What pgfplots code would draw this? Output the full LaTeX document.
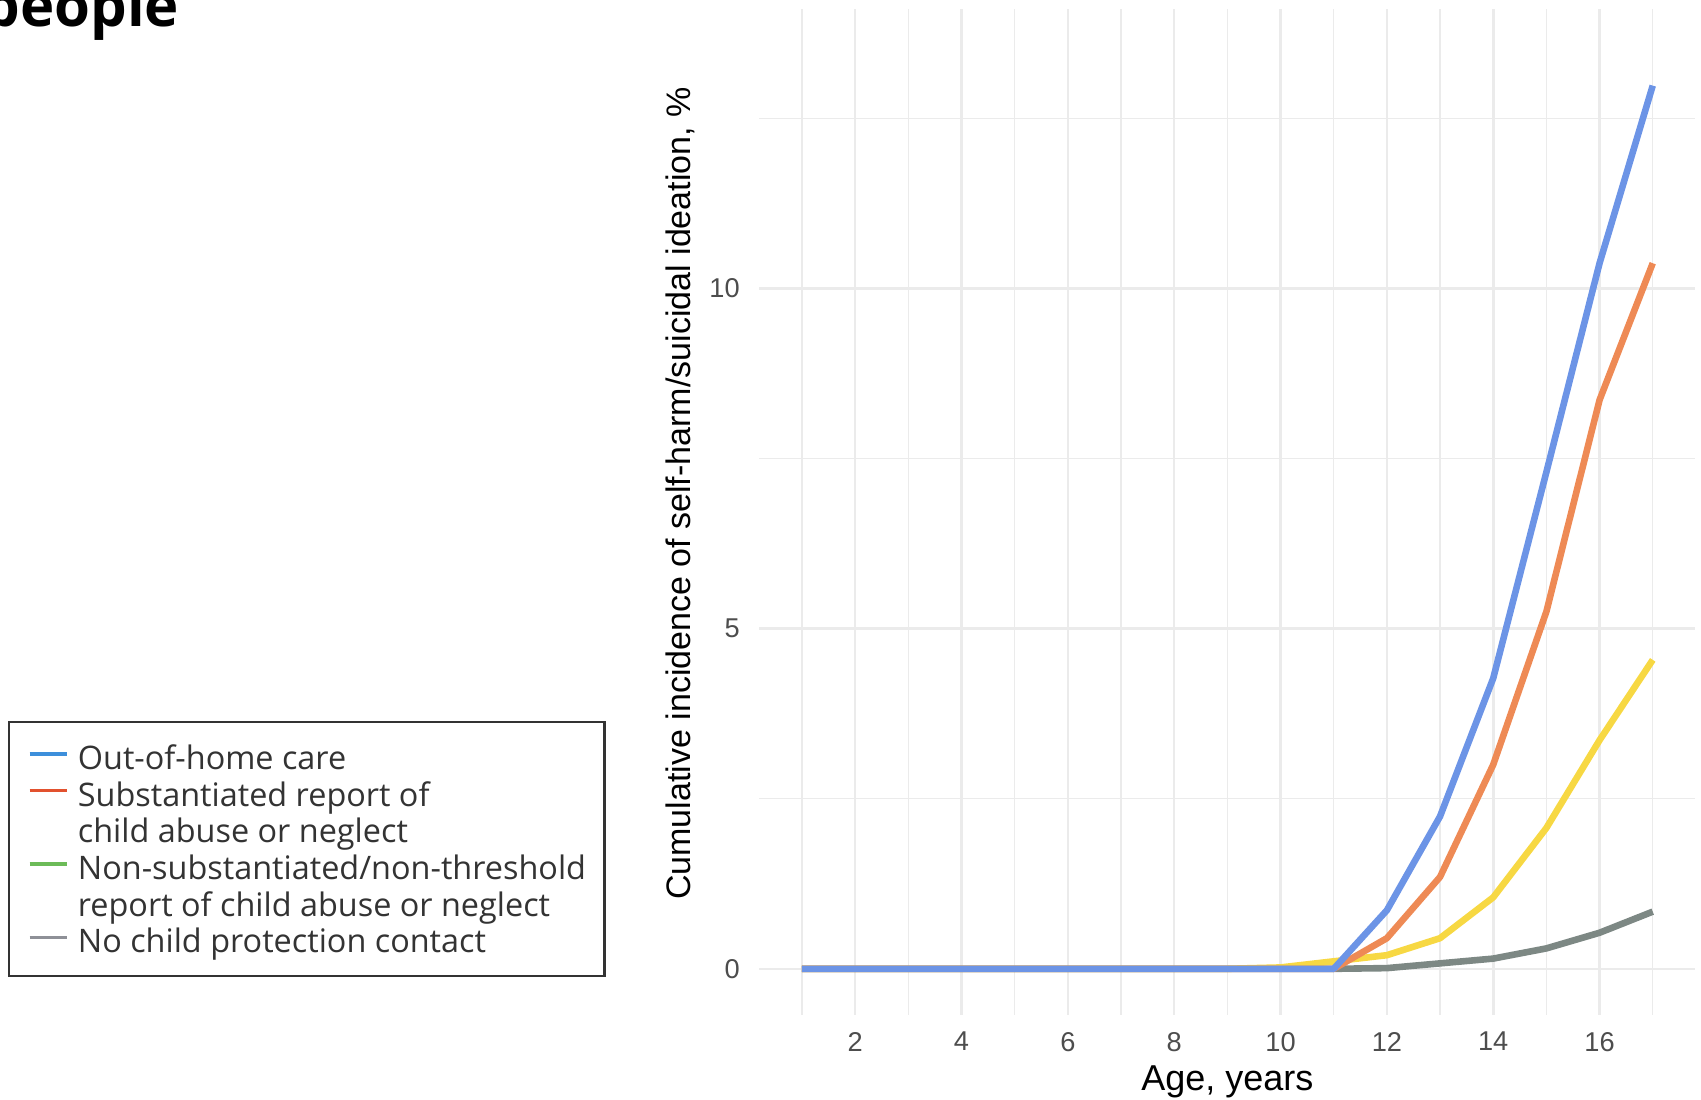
\documentclass[border=0pt]{standalone}
\usepackage{pgfplots}
\pgfplotsset{compat=1.18}
\usepackage{fontspec}
\setmainfont{Liberation Sans}
\newfontfamily\legfont{Open Sans}
\definecolor{cblue}{HTML}{6C94E6}
\definecolor{corange}{HTML}{EE8A55}
\definecolor{cyellow}{HTML}{F7D843}
\definecolor{cgray}{HTML}{7D8884}
\definecolor{lblue}{HTML}{3D8FDB}
\definecolor{lred}{HTML}{E2512E}
\definecolor{lgreen}{HTML}{6CBB58}
\definecolor{lgray}{HTML}{8E9097}
\definecolor{gridc}{HTML}{EBEBEB}
\definecolor{tickc}{HTML}{4D4D4D}
\definecolor{legc}{HTML}{333333}

\pgfplotstableread{
x blue orange yellow gray
1 0 0 0 0
2 0 0 0 0
3 0 0 0 0
4 0 0 0 0
5 0 0 0 0
6 0 0 0 0
7 0 0 0 0
8 0 0 0 0
9 0 0 0 0
10 0 0 0.02 0
11 0 0 0.11 0
12 0.86 0.45 0.20 0.01
13 2.24 1.35 0.45 0.08
14 4.27 3.00 1.05 0.15
15 7.30 5.25 2.07 0.30
16 10.37 8.36 3.36 0.53
17 12.98 10.37 4.54 0.84
}\datatable

\begin{document}
\begin{tikzpicture}
\begin{axis}[
  scale only axis, width=467.9pt, height=503pt,
  at={(379.73pt,42pt)}, anchor=south west,
  xmin=0.2, xmax=17.8, ymin=-0.679, ymax=14.106,
  xtick={2,4,...,16}, minor xtick={1,3,...,17},
  ytick={0,5,10}, minor ytick={2.5,7.5,12.5},
  grid=both,
  major grid style={draw=gridc, line width=1.3pt},
  minor grid style={draw=gridc, line width=0.75pt},
  axis line style={draw=none},
  major tick length=0pt, minor tick length=0pt,
  tick style={draw=none},
  /pgf/number format/assume math mode=true,
  ticklabel style={font=\fontsize{13.6}{16}\selectfont, text=tickc, inner sep=0pt},
  xticklabel style={anchor=north, yshift=-8.35pt},
  yticklabel style={anchor=east, xshift=-9.7pt},
  xlabel={Age, years},
  ylabel={Cumulative incidence of self-harm/suicidal ideation, \%},
  xlabel style={at={(axis description cs:0.5,-0.075)}, anchor=base, font=\fontsize{18}{20}\selectfont, inner sep=0pt},
  ylabel style={at={(axis description cs:-0.0732,0.5184)}, anchor=base, font=\fontsize{17}{20}\selectfont, inner sep=0pt},
  legend style={
    at={(axis description cs:-0.8027,0.2925)}, anchor=north west,
    draw=legc, line width=1.1pt, fill=white,
    inner xsep=9.2pt, inner ysep=8.5pt,
    cells={anchor=base west},
    nodes={inner sep=0pt, text height=15.3pt, text depth=3.05pt, font=\legfont\fontsize{16.2}{18.35}\selectfont, text=legc},
    row sep=0pt,
    /tikz/every odd column/.append style={column sep=4.6pt},
  },
]
\addplot[forget plot, cgray, line width=3.3pt, line join=round] table[x=x,y=gray] {\datatable};
\addplot[forget plot, cyellow, line width=3.3pt, line join=round] table[x=x,y=yellow] {\datatable};
\addplot[forget plot, corange, line width=3.3pt, line join=round] table[x=x,y=orange] {\datatable};
\addplot[forget plot, cblue, line width=3.3pt, line join=round] table[x=x,y=blue] {\datatable};

\addlegendimage{legend image code/.code={\draw[line width=1.8pt,lblue] (0pt,7.8pt) -- (18.65pt,7.8pt);}}
\addlegendentry{Out-of-home care}
\addlegendimage{legend image code/.code={\draw[line width=1.8pt,lred] (0pt,7.8pt) -- (18.65pt,7.8pt);}}
\addlegendentry{Substantiated report of}
\addlegendimage{legend image code/.code={}}
\addlegendentry{child abuse or neglect}
\addlegendimage{legend image code/.code={\draw[line width=1.8pt,lgreen] (0pt,7.8pt) -- (18.65pt,7.8pt);}}
\addlegendentry{Non-substantiated/non-threshold}
\addlegendimage{legend image code/.code={}}
\addlegendentry{report of child abuse or neglect}
\addlegendimage{legend image code/.code={\draw[line width=1.8pt,lgray] (0pt,7.8pt) -- (18.65pt,7.8pt);}}
\addlegendentry{No child protection contact}
\end{axis}
\node[anchor=base west, inner sep=0pt, font=\legfont\bfseries\fontsize{29}{32}\selectfont] at (-8.5pt,536.15pt) {people};
\pgfresetboundingbox
\path[use as bounding box] (0,0) rectangle (850.5pt,549.5pt);
\end{tikzpicture}
\end{document}
